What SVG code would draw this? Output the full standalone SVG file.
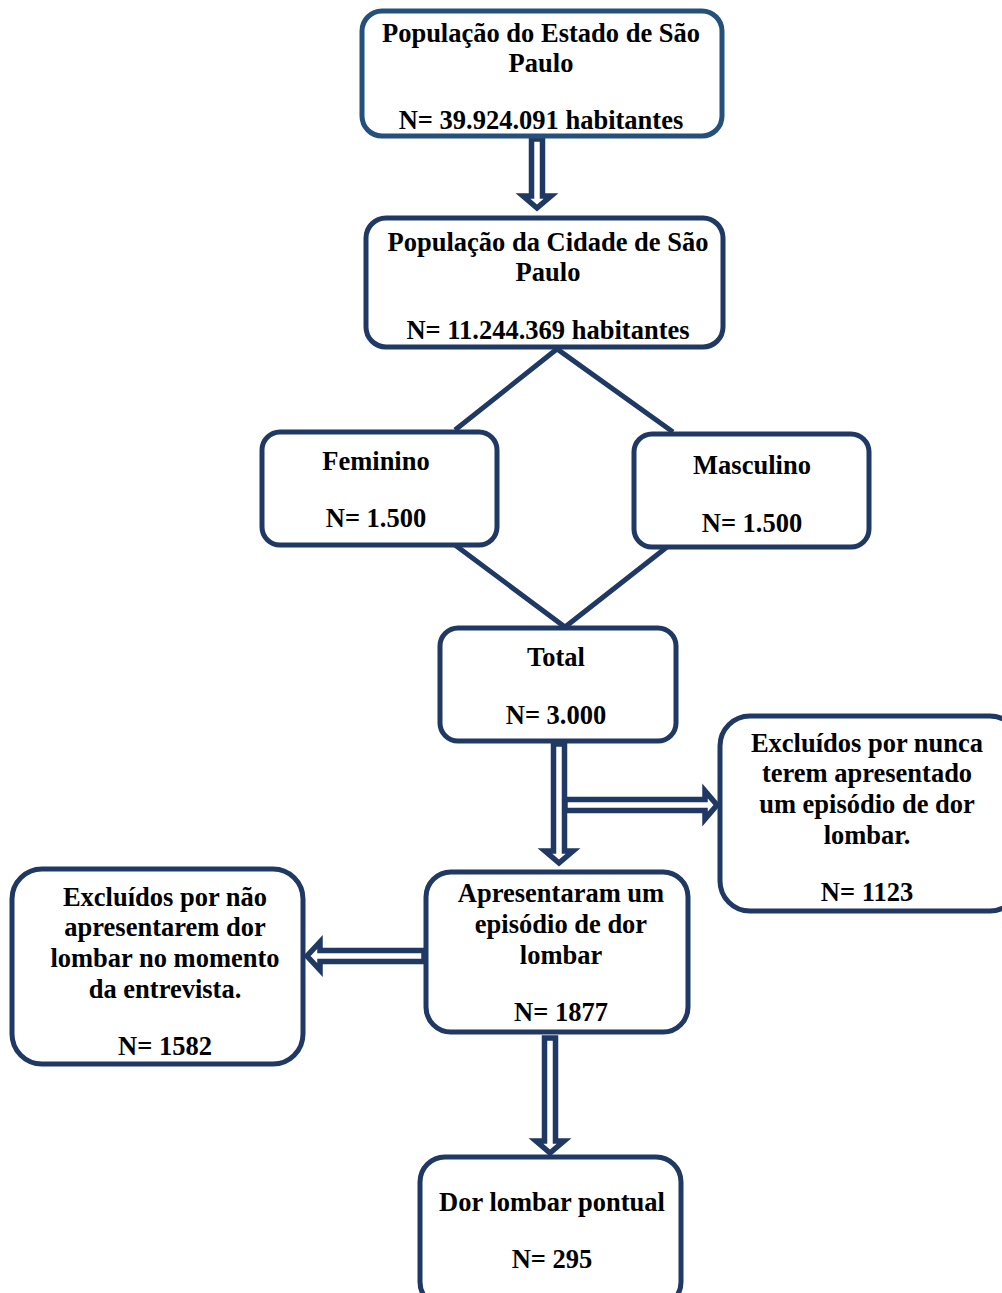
<svg xmlns="http://www.w3.org/2000/svg" width="1002" height="1293" viewBox="0 0 1002 1293">
<style>
.box{fill:#fff;stroke:#203864;stroke-width:5}
.top{stroke:#24507c}
.t{font-family:"Liberation Serif","Times New Roman",serif;font-weight:bold;font-size:26.5px;fill:#000;text-anchor:middle}
.ln{fill:none;stroke:#203864;stroke-width:5}
.ar{fill:#fff;stroke:#203864;stroke-width:5.5;stroke-linejoin:miter}
</style>
<rect width="1002" height="1293" fill="#fff"/>
<g id="connectors">
<polyline class="ln" points="455,430 557,349 673,432"/>
<polyline class="ln" points="455,545 565,627 667,547"/>
<polygon class="ar" points="531.5,139 542.5,139 542.5,196 551,196 537,208 523,196 531.5,196"/>
<polygon class="ar" points="553.5,744 564.5,744 564.5,851 573,851 559,863 545,851 553.5,851"/>
<polygon class="ar" points="565,799.5 705,799.5 705,791 717,805 705,819 705,810.5 565,810.5"/>
<polygon class="ar" points="424,950.5 320,950.5 320,942 307,956 320,970 320,961.5 424,961.5"/>
<polygon class="ar" points="544.5,1038 555.5,1038 555.5,1141 564,1141 550,1153 536,1141 544.5,1141"/>
</g>
<g id="n1"><rect class="box top" x="362" y="11" width="360" height="125" rx="20"/>
<text class="t" x="541" y="42">População do Estado de São</text>
<text class="t" x="541" y="72">Paulo</text>
<text class="t" x="541" y="129">N= 39.924.091 habitantes</text></g>
<g id="n2"><rect class="box" x="366" y="218" width="357" height="129" rx="20"/>
<text class="t" x="548" y="251">População da Cidade de São</text>
<text class="t" x="548" y="281">Paulo</text>
<text class="t" x="548" y="339">N= 11.244.369 habitantes</text></g>
<g id="n3"><rect class="box" x="262" y="432" width="235" height="113" rx="18"/>
<text class="t" x="376" y="470">Feminino</text>
<text class="t" x="376" y="527">N= 1.500</text></g>
<g id="n4"><rect class="box" x="634" y="434" width="235" height="113" rx="18"/>
<text class="t" x="752" y="474">Masculino</text>
<text class="t" x="752" y="532">N= 1.500</text></g>
<g id="n5"><rect class="box" x="440" y="628" width="236" height="113" rx="18"/>
<text class="t" x="556" y="666">Total</text>
<text class="t" x="556" y="724">N= 3.000</text></g>
<g id="n6"><rect class="box" x="720" y="716" width="300" height="195" rx="30"/>
<text class="t" x="867" y="752">Excluídos por nunca</text>
<text class="t" x="867" y="782">terem apresentado</text>
<text class="t" x="867" y="813">um episódio de dor</text>
<text class="t" x="867" y="844">lombar.</text>
<text class="t" x="867" y="901">N= 1123</text></g>
<g id="n7"><rect class="box" x="426" y="872" width="262" height="160" rx="25"/>
<text class="t" x="561" y="902">Apresentaram um</text>
<text class="t" x="561" y="933">episódio de dor</text>
<text class="t" x="561" y="964">lombar</text>
<text class="t" x="561" y="1021">N= 1877</text></g>
<g id="n8"><rect class="box" x="12" y="869" width="291" height="195" rx="30"/>
<text class="t" x="165" y="906">Excluídos por não</text>
<text class="t" x="165" y="936">apresentarem dor</text>
<text class="t" x="165" y="967">lombar no momento</text>
<text class="t" x="165" y="998">da entrevista.</text>
<text class="t" x="165" y="1055">N= 1582</text></g>
<g id="n9"><rect class="box" x="420" y="1157" width="261" height="150" rx="25"/>
<text class="t" x="552" y="1211">Dor lombar pontual</text>
<text class="t" x="552" y="1268">N= 295</text></g>
</svg>
